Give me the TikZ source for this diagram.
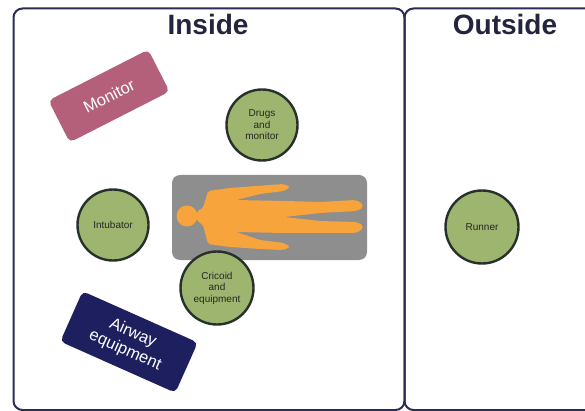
\documentclass[tikz,border=0pt]{standalone}
\usepackage{fontspec}
\setmainfont{Liberation Sans}
\definecolor{frameblue}{HTML}{2B2D55}
\definecolor{titlecol}{HTML}{23243E}
\definecolor{greenfill}{HTML}{9DB56F}
\definecolor{ringcol}{HTML}{27302A}
\definecolor{monitorcol}{HTML}{B5607A}
\definecolor{airwaycol}{HTML}{1E1F5E}
\definecolor{bedgray}{HTML}{8E8E8E}
\definecolor{bodyorange}{HTML}{F7A43C}
\tikzset{
  panel/.style={draw=frameblue, line width=2pt, rounded corners=9pt},
  title/.style={font=\fontsize{28}{30}\selectfont\bfseries, text=titlecol},
  station/.style={circle, draw=ringcol, line width=2.4pt, fill=greenfill,
    minimum size=71pt, inner sep=0pt, align=center, text=black!85,
    font=\fontsize{10}{11.5}\selectfont},
  equipbox/.style={rectangle, rounded corners=5pt, text=white, align=center,
    inner sep=0pt, font=\fontsize{16.5}{19}\selectfont},
}
\begin{document}
\begin{tikzpicture}[x=1pt,y=-1pt]
\useasboundingbox (0,0) rectangle (585,411);
\clip (0,0) rectangle (585,411);
\fill[white] (0,0) rectangle (585,411);
% panels
\draw[panel] (13.5,8.5) rectangle (404.5,410);
\draw[panel] (404.5,8.5) rectangle (620,410);
\node[title] (inside) at (208,24) {Inside};
\node[title] (outside) at (505,24) {Outside};
% bed
\node[rectangle, fill=bedgray, rounded corners=8pt, minimum width=195pt,
  minimum height=85pt, inner sep=0pt] (bed) at (269.5,217.5) {};
% person
\fill[bodyorange, rounded corners=2pt]
  (197,211) -- (203,208) -- (208,191) -- (230,188) -- (270,185) -- (284,184)
  -- (290,187) -- (284,191) -- (260,194) -- (236,200) -- (285,201)
  -- (320,202) -- (355,200) -- (362,203) -- (363,208) -- (356,211)
  -- (320,213) -- (284,217) -- (320,221) -- (356,222) -- (363,225)
  -- (362,230) -- (355,233) -- (320,233) -- (285,233) -- (236,232)
  -- (260,240) -- (284,243) -- (290,247) -- (283,250) -- (260,249)
  -- (230,247) -- (208,244) -- (203,225) -- (197,221) -- cycle;
\fill[bodyorange] (187,216) circle[radius=10.5];
% equipment
\node[equipbox, fill=monitorcol, minimum width=112pt, minimum height=47pt,
  rotate=27] (monitor) at (109,96) {Monitor};
\node[equipbox, fill=airwaycol, minimum width=126pt, minimum height=55pt,
  rotate=-24] (airway) at (129,342) {Airway\\equipment};
% stations
\node[station] (drugs) at (262,125) {Drugs\\and\\monitor};
\node[station] (intub) at (113,225) {Intubator};
\node[station, minimum size=73pt] (cricoid) at (217,288) {Cricoid\\and\\equipment};
\node[station, minimum size=73pt] (runner) at (482,227) {Runner};
\end{tikzpicture}
\end{document}
